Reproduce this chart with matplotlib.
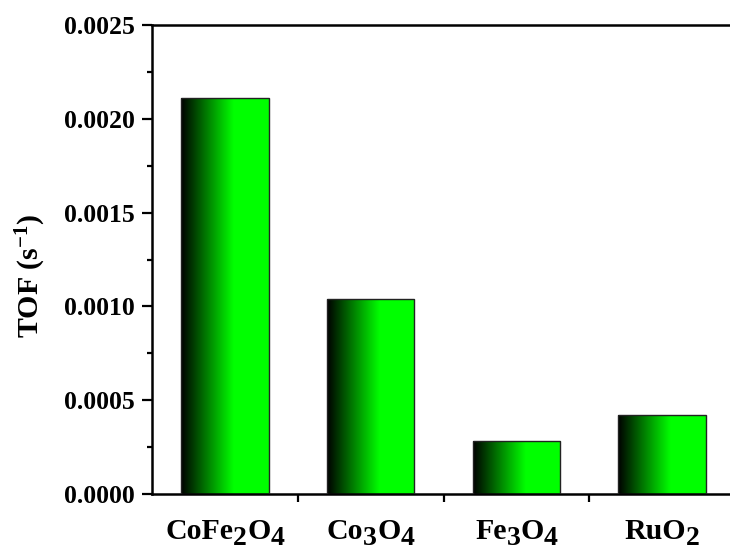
import numpy as np
import matplotlib
matplotlib.use("Agg")
import matplotlib.pyplot as plt
from matplotlib.colors import LinearSegmentedColormap
from matplotlib.ticker import MultipleLocator, FormatStrFormatter, FixedLocator

plt.rcParams["font.family"] = ["Liberation Serif", "DejaVu Serif"]
plt.rcParams["font.weight"] = "bold"
plt.rcParams["mathtext.fontset"] = "custom"
plt.rcParams["mathtext.rm"] = "Liberation Serif:bold"
plt.rcParams["mathtext.bf"] = "Liberation Serif:bold"
plt.rcParams["mathtext.it"] = "Liberation Serif:bold"

# catalyst names split into (text, is_subscript) pieces
catalysts = [
    [("CoFe", False), ("2", True), ("O", False), ("4", True)],
    [("Co", False), ("3", True), ("O", False), ("4", True)],
    [("Fe", False), ("3", True), ("O", False), ("4", True)],
    [("RuO", False), ("2", True)],
]
tof = [0.00211, 0.00104, 0.00028, 0.00042]
y_ticks = [0.0, 0.0005, 0.0010, 0.0015, 0.0020, 0.0025]

DPI = 100
fig = plt.figure(figsize=(7.30, 5.52), dpi=DPI)
ax = fig.add_axes([152 / 730, 1 - 494 / 552, 583 / 730, 469 / 552])

x = np.arange(1, len(tof) + 1)
bars = ax.bar(x, tof, width=0.6, color="none", edgecolor="#222222", linewidth=1.0, zorder=3)

# horizontal black-to-green fill for every bar
grad_cmap = LinearSegmentedColormap.from_list(
    "blackgreen", [(0.0, "#000000"), (0.6, "#00ff00"), (1.0, "#00ff00")])
ramp = np.linspace(0, 1, 256).reshape(1, -1)
for b in bars:
    x0, y0 = b.get_x(), b.get_y()
    w, h = b.get_width(), b.get_height()
    im = ax.imshow(ramp, cmap=grad_cmap, aspect="auto", extent=[x0, x0 + w, y0, y0 + h],
                   zorder=2, interpolation="bilinear")
    im.set_clip_path(b)

ax.set_xlim(0.5, 4.5)
ax.set_ylim(0, 0.0025)

ax.yaxis.set_major_locator(FixedLocator(y_ticks))
ax.yaxis.set_minor_locator(MultipleLocator(0.00025))
ax.yaxis.set_major_formatter(FormatStrFormatter("%.4f"))

ax.xaxis.set_major_locator(FixedLocator([1.5, 2.5, 3.5, 4.5]))
ax.xaxis.set_major_formatter(plt.NullFormatter())

ax.tick_params(axis="y", which="major", direction="out", length=7, width=1.6,
               labelsize=18.5, pad=5.5)
ax.tick_params(axis="y", which="minor", direction="out", length=3.5, width=1.6)
ax.tick_params(axis="x", which="major", direction="out", length=6, width=1.6)

for lbl in ax.get_yticklabels():
    lbl.set_fontweight("bold")

for s in ax.spines.values():
    s.set_linewidth(1.8)

ax.set_ylabel(r"TOF (s$^{\mathbf{-1}}$)", fontsize=21.5, fontweight="bold")
ax.yaxis.set_label_coords(48 / 730, 1 - 276 / 552, transform=fig.transFigure)

# category labels with large, lowered subscripts
renderer = fig.canvas.get_renderer()
main_size, sub_size = 21.5, 20
base_y = 539          # baseline, pixels from the top
sub_drop = 6          # subscript baseline shift, pixels
W, H = fig.bbox.width, fig.bbox.height
for xi, pieces in zip(x, catalysts):
    widths = []
    for txt, sub in pieces:
        t = fig.text(0, 0, txt, fontsize=sub_size if sub else main_size, fontweight="bold")
        widths.append(t.get_window_extent(renderer).width)
        t.remove()
    cx = ax.transData.transform((xi, 0))[0]
    left = cx - sum(widths) / 2
    for (txt, sub), w in zip(pieces, widths):
        yb = base_y + (sub_drop if sub else 0)
        fig.text(left / W, 1 - yb / H, txt, fontsize=sub_size if sub else main_size,
                 fontweight="bold", ha="left", va="baseline")
        left += w

fig.savefig("out.png", dpi=DPI)
